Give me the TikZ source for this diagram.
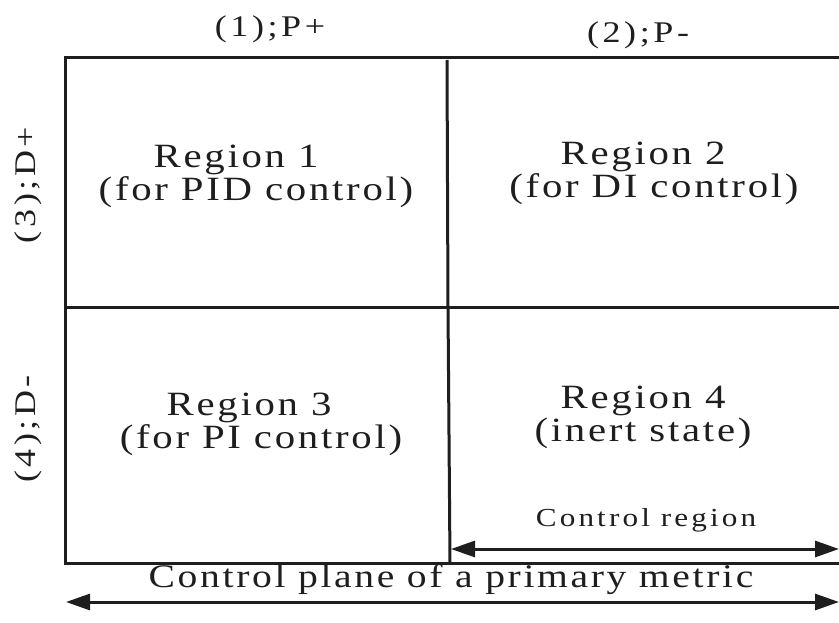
\documentclass[tikz,border=0pt]{standalone}
\usepackage{fontspec}
\setmainfont{Liberation Serif}
% slightly widened, loosely tracked serif used for the labels
\newfontfamily\wideserif[FakeStretch=1.2, LetterSpace=12]{Liberation Serif}
\newfontfamily\wideserifmid[FakeStretch=1.2, LetterSpace=8]{Liberation Serif}
\usetikzlibrary{arrows.meta}
\definecolor{ink}{HTML}{1E1E1E}
\tikzset{
  frame/.style={draw=ink, line width=3pt},
  axislabel/.style={text=ink, font=\wideserif\fontsize{30}{36}\selectfont, inner sep=0pt},
  regionlabel/.style={text=ink, font=\wideserifmid\fontsize{34}{38}\selectfont, inner sep=0pt, anchor=base},
  spanarrow/.style={draw=ink, line width=3pt, {Triangle[length=24pt,width=16pt]}-{Triangle[length=24pt,width=16pt]}},
}
\begin{document}
\begin{tikzpicture}[x=1pt, y=-1pt]
\useasboundingbox (0,0) rectangle (839,623);
\clip (0,0) rectangle (839,623);

% quadrant grid, running off the right edge
\coordinate (tl) at (65,58);
\coordinate (br) at (870,563);
\draw[frame] (tl) rectangle (br);
\coordinate (vtop) at (447,60);
\coordinate (vmid) at (448,307);
\coordinate (vbot) at (450,563);
\draw[frame] (vtop) -- (vmid) -- (vbot);
\coordinate (hl) at (65,307);
\coordinate (hr) at (870,307);
\draw[frame] (hl) -- (hr);

% axis labels
\node[axislabel, anchor=base] (pplus) at (270,37) {(1);P+};
\node[axislabel, anchor=base] (pminus) at (638,43) {(2);P-};
\node[axislabel, rotate=90] (dplus) at (28,185) {(3);D+};
\node[axislabel, rotate=90] (dminus) at (28,429) {(4);D-};

% quadrant captions
\node[regionlabel] (r1a) at (236,168) {Region 1};
\node[regionlabel] (r1b) at (256,201) {(for PID control)};
\node[regionlabel] (r2a) at (643,165) {Region 2};
\node[regionlabel] (r2b) at (654,198) {(for DI control)};
\node[regionlabel] (r3a) at (249,415) {Region 3};
\node[regionlabel] (r3b) at (261,448) {(for PI control)};
\node[regionlabel] (r4a) at (643,408) {Region 4};
\node[regionlabel] (r4b) at (643,441) {(inert state)};

% control region span
\node[text=ink, font=\wideserif\fontsize{26}{30}\selectfont, inner sep=0pt] (creg) at (646,520) {Control region};
\coordinate (ca) at (451,549);
\coordinate (cb) at (839,549);
\draw[spanarrow] (ca) -- (cb);

% whole plane span
\node[text=ink, font=\wideserifmid\fontsize{33}{38}\selectfont, inner sep=0pt] (cplane) at (451,579) {Control plane of a primary metric};
\coordinate (pa) at (66,602);
\coordinate (pb) at (839,602);
\draw[spanarrow] (pa) -- (pb);
\end{tikzpicture}
\end{document}
